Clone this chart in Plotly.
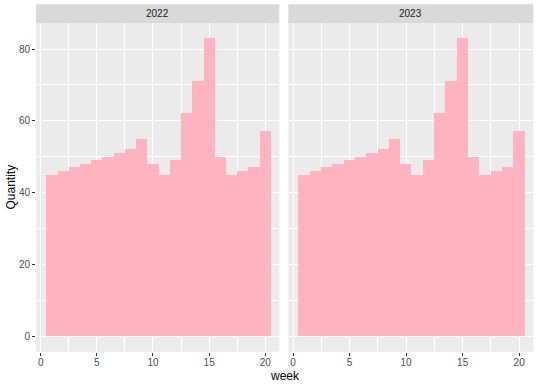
import plotly.graph_objects as go

weeks = list(range(1, 21))
qty_2022 = [45, 46, 47, 48, 49, 50, 51, 52, 55, 48, 45, 49, 62, 71, 83, 50, 45, 46, 47, 57]
qty_2023 = [45, 46, 47, 48, 49, 50, 51, 52, 55, 48, 45, 49, 62, 71, 83, 50, 45, 46, 47, 57]
years = ["2022", "2023"]
x_ticks = [0, 5, 10, 15, 20]
y_ticks = [0, 20, 40, 60, 80]

W, H = 540, 386
FONT = "Liberation Sans, Arial, Helvetica, sans-serif"
BAR = "#FFB3C1"

def px_x(p):
    return p / W

def px_y(p):
    return (H - p) / H

x1_dom = [px_x(36), px_x(279.3)]
x2_dom = [px_x(288.3), px_x(533.3)]
y_dom = [px_y(351.7), px_y(23.3)]
strip_top = px_y(4.3)

fig = go.Figure()
fig.add_trace(go.Bar(x=weeks, y=qty_2022, width=1, marker=dict(color=BAR, line=dict(width=0)),
                     xaxis="x", yaxis="y", showlegend=False))
fig.add_trace(go.Bar(x=weeks, y=qty_2023, width=1, marker=dict(color=BAR, line=dict(width=0)),
                     xaxis="x2", yaxis="y2", showlegend=False))

xcommon = dict(range=[-0.42, 21.25], tickvals=x_ticks, ticktext=[str(v) for v in x_ticks],
               showgrid=True, gridcolor="white", gridwidth=1.1, zeroline=False, automargin=False,
               minor=dict(tickvals=[2.5, 7.5, 12.5, 17.5], showgrid=True, gridcolor="white", gridwidth=0.5, ticks=""),
               ticks="outside", ticklen=3, tickcolor="#333333", tickwidth=1, ticklabelstandoff=-2,
               tickfont=dict(family=FONT, size=10, color="#4D4D4D"), showline=False, fixedrange=True)
ycommon = dict(range=[-4.15, 87.15], tickvals=y_ticks, domain=y_dom, automargin=False,
               showgrid=True, gridcolor="white", gridwidth=1.1, zeroline=False,
               minor=dict(tickvals=[10, 30, 50, 70], showgrid=True, gridcolor="white", gridwidth=0.5, ticks=""),
               tickfont=dict(family=FONT, size=10, color="#4D4D4D"), showline=False, fixedrange=True)

fig.update_layout(
    width=W, height=H,
    margin=dict(l=0, r=0, t=0, b=0, autoexpand=False),
    paper_bgcolor="white", plot_bgcolor="#EBEBEB",
    bargap=0,
    font=dict(family=FONT),
    xaxis=dict(domain=x1_dom, anchor="y", **xcommon),
    xaxis2=dict(domain=x2_dom, anchor="y2", **xcommon),
    yaxis=dict(anchor="x", ticks="outside", ticklen=3, tickcolor="#333333", tickwidth=1,
               showticklabels=True, **ycommon),
    yaxis2=dict(anchor="x2", ticks="", showticklabels=False, **ycommon),
    shapes=[
        dict(type="rect", xref="paper", yref="paper", x0=x1_dom[0], x1=x1_dom[1], y0=y_dom[1], y1=strip_top,
             fillcolor="#D9D9D9", line=dict(width=0), layer="below"),
        dict(type="rect", xref="paper", yref="paper", x0=x2_dom[0], x1=x2_dom[1], y0=y_dom[1], y1=strip_top,
             fillcolor="#D9D9D9", line=dict(width=0), layer="below"),
    ],
    annotations=[
        dict(text=years[0], xref="paper", yref="paper", x=sum(x1_dom) / 2, y=(y_dom[1] + strip_top) / 2,
             showarrow=False, font=dict(family=FONT, size=10, color="#1A1A1A"), xanchor="center", yanchor="middle"),
        dict(text=years[1], xref="paper", yref="paper", x=sum(x2_dom) / 2, y=(y_dom[1] + strip_top) / 2,
             showarrow=False, font=dict(family=FONT, size=10, color="#1A1A1A"), xanchor="center", yanchor="middle"),
        dict(text="week", xref="paper", yref="paper", x=(x1_dom[0] + x2_dom[1]) / 2, y=px_y(376),
             showarrow=False, font=dict(family=FONT, size=12, color="black"), xanchor="center", yanchor="middle"),
        dict(text="Quantity", xref="paper", yref="paper", x=px_x(10), y=sum(y_dom) / 2, textangle=-90,
             showarrow=False, font=dict(family=FONT, size=12, color="black"), xanchor="center", yanchor="middle"),
    ],
)

fig.write_html("out.html", config={"displayModeBar": False},
               post_script="document.body.style.margin='0';document.body.style.padding='0';")
